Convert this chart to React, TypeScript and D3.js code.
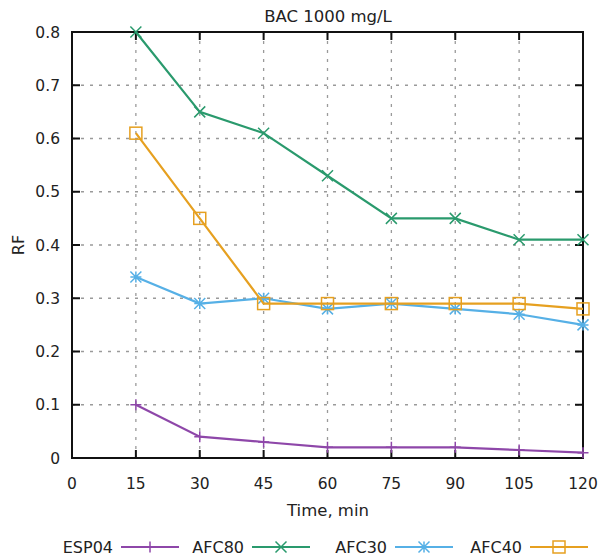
import * as d3 from "d3";
import { useEffect, useRef } from "react";

const times = [15, 30, 45, 60, 75, 90, 105, 120];
const esp04 = [0.1, 0.04, 0.03, 0.02, 0.02, 0.02, 0.015, 0.01];
const afc80 = [0.8, 0.65, 0.61, 0.53, 0.45, 0.45, 0.41, 0.41];
const afc30 = [0.34, 0.29, 0.3, 0.28, 0.29, 0.28, 0.27, 0.25];
const afc40 = [0.61, 0.45, 0.29, 0.29, 0.29, 0.29, 0.29, 0.28];
const xTicks = [0, 15, 30, 45, 60, 75, 90, 105, 120];
const yTicks = [0, 0.1, 0.2, 0.3, 0.4, 0.5, 0.6, 0.7, 0.8];

const series = [
  { name: "ESP04", values: esp04, color: "#8e47a9", marker: "plus" },
  { name: "AFC80", values: afc80, color: "#2a9a6d", marker: "cross" },
  { name: "AFC30", values: afc30, color: "#56b0e6", marker: "star" },
  { name: "AFC40", values: afc40, color: "#e6a020", marker: "square" },
];

const W = 603;
const H = 557;
const margin = { top: 32, right: 20, bottom: 99, left: 72 };
const font = "'DejaVu Sans', Verdana, sans-serif";

const drawMarker = (g, type, x, y, color) => {
  const s = 5.5;
  if (type === "plus") {
    g.append("path").attr("d", `M${x - s},${y}H${x + s}M${x},${y - s}V${y + s}`)
      .attr("stroke", color).attr("stroke-width", 1.5);
  } else if (type === "cross") {
    g.append("path").attr("d", `M${x - s},${y - s}L${x + s},${y + s}M${x - s},${y + s}L${x + s},${y - s}`)
      .attr("stroke", color).attr("stroke-width", 1.5);
  } else if (type === "star") {
    g.append("path").attr("d", `M${x - s},${y}H${x + s}M${x},${y - s}V${y + s}M${x - s},${y - s}L${x + s},${y + s}M${x - s},${y + s}L${x + s},${y - s}`)
      .attr("stroke", color).attr("stroke-width", 1.5);
  } else {
    g.append("rect").attr("x", x - 6).attr("y", y - 6).attr("width", 12).attr("height", 12)
      .attr("fill", "none").attr("stroke", color).attr("stroke-width", 1.5);
  }
};

const Chart = () => {
  const ref = useRef(null);

  useEffect(() => {
    const svg = d3.select(ref.current);
    svg.selectAll("*").remove();

    const iw = W - margin.left - margin.right;
    const ih = H - margin.top - margin.bottom;
    const x = d3.scaleLinear().domain([0, 120]).range([margin.left, margin.left + iw]);
    const y = d3.scaleLinear().domain([0, 0.8]).range([margin.top + ih, margin.top]);

    svg.append("rect").attr("width", W).attr("height", H).attr("fill", "#fff");

    // grid
    const grid = svg.append("g").attr("stroke", "#9a9a9a").attr("stroke-width", 1.3)
      .attr("stroke-dasharray", "3,6");
    xTicks.slice(1, -1).forEach(t => {
      grid.append("line").attr("x1", x(t)).attr("x2", x(t))
        .attr("y1", y(0)).attr("y2", y(0.8));
    });
    yTicks.slice(1, -1).forEach(t => {
      grid.append("line").attr("x1", x(0)).attr("x2", x(120))
        .attr("y1", y(t)).attr("y2", y(t));
    });

    // axes (ticks inside, mirrored)
    const tl = 8;
    const axes = svg.append("g").attr("stroke", "#111").attr("stroke-width", 2);
    xTicks.forEach(t => {
      axes.append("line").attr("x1", x(t)).attr("x2", x(t)).attr("y1", y(0)).attr("y2", y(0) - tl);
      axes.append("line").attr("x1", x(t)).attr("x2", x(t)).attr("y1", y(0.8)).attr("y2", y(0.8) + tl);
    });
    yTicks.forEach(t => {
      axes.append("line").attr("x1", x(0)).attr("x2", x(0) + tl).attr("y1", y(t)).attr("y2", y(t));
      axes.append("line").attr("x1", x(120)).attr("x2", x(120) - tl).attr("y1", y(t)).attr("y2", y(t));
    });
    axes.append("rect").attr("x", x(0)).attr("y", y(0.8)).attr("width", iw).attr("height", ih)
      .attr("fill", "none");

    const txt = svg.append("g").attr("font-family", font).attr("fill", "#222");
    xTicks.forEach(t => {
      txt.append("text").attr("x", x(t)).attr("y", y(0) + 31).attr("text-anchor", "middle")
        .attr("font-size", 15.5).text(t);
    });
    yTicks.forEach(t => {
      txt.append("text").attr("x", x(0) - 12).attr("y", y(t) + 5.5).attr("text-anchor", "end")
        .attr("font-size", 15.5).text(t === 0 ? "0" : d3.format(".1f")(t));
    });
    txt.append("text").attr("x", 328).attr("y", 22).attr("text-anchor", "middle")
      .attr("font-size", 16.5).text("BAC 1000 mg/L");
    txt.append("text").attr("x", 328).attr("y", 516).attr("text-anchor", "middle")
      .attr("font-size", 16.5).text("Time, min");
    txt.append("text").attr("transform", `translate(24,${(y(0) + y(0.8)) / 2}) rotate(-90)`)
      .attr("text-anchor", "middle").attr("font-size", 16).text("RF");

    // series
    const line = d3.line().x((d, i) => x(times[i])).y(d => y(d));
    series.forEach(s => {
      const g = svg.append("g");
      g.append("path").attr("d", line(s.values)).attr("fill", "none")
        .attr("stroke", s.color).attr("stroke-width", 2.2);
      s.values.forEach((v, i) => drawMarker(g, s.marker, x(times[i]), y(v), s.color));
    });

    // legend
    const legendStarts = [121, 252, 395, 530];
    series.forEach((s, i) => {
      const lx = legendStarts[i];
      const ly = 547;
      txt.append("text").attr("x", lx - 8).attr("y", ly + 6).attr("text-anchor", "end")
        .attr("font-size", 16).text(s.name);
      const g = svg.append("g");
      g.append("line").attr("x1", lx).attr("x2", lx + 58).attr("y1", ly).attr("y2", ly)
        .attr("stroke", s.color).attr("stroke-width", 2.2);
      drawMarker(g, s.marker, lx + 29, ly, s.color);
    });
  }, []);

  return <svg ref={ref} width={W} height={H} style={{ display: "block" }} />;
};

export default function App() {
  return (
    <div style={{ position: "fixed", left: 0, top: 0 }}>
      <Chart />
    </div>
  );
}
